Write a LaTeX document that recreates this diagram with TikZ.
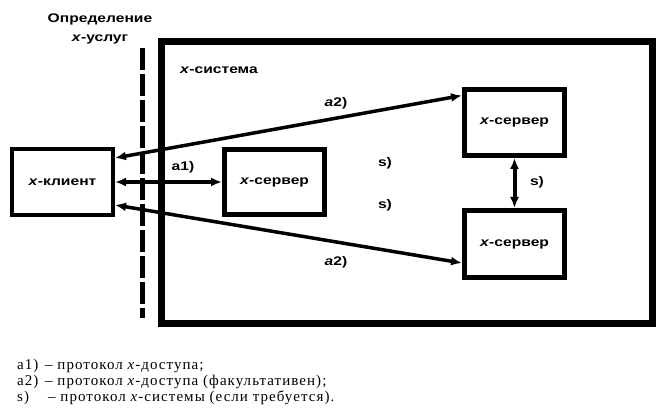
\documentclass[tikz,border=0pt]{standalone}
\usepackage{fontspec}
\setmainfont{Liberation Serif}
\newfontfamily\diafont[FakeStretch=1.25]{Liberation Sans}
\newfontfamily\legfont[LetterSpace=7]{Liberation Serif}
\usetikzlibrary{arrows.meta}
\tikzset{
  box/.style={draw, line width=5pt, minimum width=100pt, minimum height=66pt, inner sep=0pt,
    font=\diafont\fontsize{12.5}{14}\selectfont\bfseries},
  lbl/.style={font=\diafont\fontsize{12.5}{14}\selectfont\bfseries, inner sep=0pt},
  leg/.style={font=\legfont\fontsize{15}{16}\selectfont, anchor=west, inner sep=0pt},
  arr/.style={line width=3.5pt, {Latex[length=11pt,width=9pt]}-{Latex[length=11pt,width=9pt]}},
}
\begin{document}
\begin{tikzpicture}[x=1pt,y=-1pt]
\useasboundingbox (0,0) rectangle (656,411);
% system frame
\draw[line width=7pt] (161.5,41.5) rectangle (652.5,323.5);
\node[lbl, anchor=west] (sys) at (180,70) {\textit{x}-система};
% service boundary
\coordinate (dtop) at (142,48);
\coordinate (dbot) at (142,318);
\draw[line width=5pt, dash pattern=on 22pt off 4pt] (dtop) -- (dbot);
\node[lbl] (t1) at (100,19) {Определение};
\node[lbl] (t2) at (100,39) {\textit{x}-услуг};
% boxes
\node[box, line width=4pt, minimum width=101pt] (client) at (62.5,182) {\textit{x}-клиент};
\node[box, minimum height=65pt] (srv1) at (274.5,182) {\textit{x}-сервер};
\node[box] (srvA) at (514.5,122.5) {\textit{x}-сервер};
\node[box, minimum height=67pt] (srvB) at (514.5,244) {\textit{x}-сервер};
% connectors
\draw[arr] (client.east) -- (srv1.west);
\draw[arr] ([shift={(0,-24)}]client.east) -- ([shift={(0,-27)}]srvA.west);
\draw[arr] ([shift={(0,23)}]client.east) -- ([shift={(0,19)}]srvB.west);
\draw[arr, line width=4pt] (srvA.south) -- (srvB.north);
% labels
\node[lbl] (la1) at (183,167) {a1)};
\node[lbl] (la2t) at (336,103) {\textit{a}2)};
\node[lbl] (la2b) at (336,262) {\textit{a}2)};
\node[lbl] (ls1) at (385,163) {s)};
\node[lbl] (ls2) at (385,205) {s)};
\node[lbl] (ls3) at (537,182) {s)};
% legend
\node[leg] (g1) at (17,366) {\makebox[28pt][l]{a1)}– протокол \textit{x}-доступа;};
\node[leg] (g2) at (17,382) {\makebox[28pt][l]{a2)}– протокол \textit{x}-доступа (факультативен);};
\node[leg] (g3) at (17,398) {\makebox[31pt][l]{s)}– протокол \textit{x}-системы (если требуется).};
\end{tikzpicture}
\end{document}
